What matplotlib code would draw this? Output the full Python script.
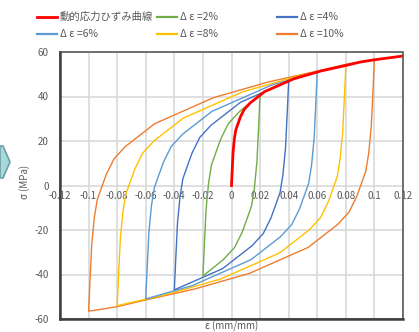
import matplotlib
matplotlib.use("Agg")
import matplotlib.pyplot as plt
from matplotlib.lines import Line2D
from matplotlib.patches import Polygon, Rectangle

plt.rcParams['font.family'] = ['Noto Sans CJK JP', 'DejaVu Sans']

# Skeleton (dynamic stress-strain) curve
skel_eps = [0, 0.0005, 0.0011, 0.002, 0.003, 0.0048, 0.0062, 0.0089, 0.0129,
            0.0232, 0.0438, 0.0628, 0.0803, 0.0902, 0.1, 0.12]
skel_sig = [0, 7, 15, 21, 25, 28.2, 30.8, 34.2, 37, 42.2, 48, 51.5, 54, 55.5, 56.5, 58.2]

# Unloading branches of the hysteresis loops (from +peak down to -peak);
# the reloading branch is the point reflection of the unloading branch.
loop2_eps = [0.02, 0.019, 0.0178, 0.016, 0.014, 0.0104, 0.0076, 0.0022, -0.0057, -0.02]
loop2_sig = [40.7, 26.7, 10.7, -1.3, -9.3, -15.8, -20.8, -27.8, -33.3, -40.7]

loop4_eps = [0.04, 0.039, 0.0378, 0.036, 0.034, 0.0304, 0.0276, 0.0222, 0.0143, -0.0063, -0.04]
loop4_sig = [46.9, 32.9, 16.9, 4.9, -3.1, -9.6, -14.6, -21.6, -27.1, -37.4, -46.9]

loop6_eps = [0.06, 0.059, 0.0578, 0.056, 0.054, 0.0504, 0.0476, 0.0422, 0.0343, 0.0137,
             -0.0275, -0.06]
loop6_sig = [51.0, 37.0, 21.0, 9.0, 1.0, -5.5, -10.5, -17.5, -23.0, -33.3, -45.0, -51.0]

loop8_eps = [0.08, 0.079, 0.0778, 0.076, 0.074, 0.0704, 0.0676, 0.0622, 0.0543, 0.0337,
             -0.0075, -0.0456, -0.08]
loop8_sig = [54.0, 40.0, 24.0, 12.0, 4.0, -2.5, -7.5, -14.5, -20.0, -30.3, -42.0, -49.0, -54.0]

loop10_eps = [0.1, 0.099, 0.0978, 0.096, 0.094, 0.0904, 0.0876, 0.0822, 0.0743, 0.0537,
              0.0125, -0.0256, -0.0605, -0.0803, -0.1]
loop10_sig = [56.5, 42.5, 26.5, 14.5, 6.5, 0.0, -5.0, -12.0, -17.5, -27.8, -39.5, -46.5,
              -51.5, -54.5, -56.5]

labels = ['動的応力ひずみ曲線', 'Δ ε =2%', 'Δ ε =4%', 'Δ ε =6%', 'Δ ε =8%', 'Δ ε =10%']
colors = ['#FF0000', '#70AD47', '#4472C4', '#5B9BD5', '#FFC000', '#ED7D31']

x_ticks = [-0.12, -0.1, -0.08, -0.06, -0.04, -0.02, 0, 0.02, 0.04, 0.06, 0.08, 0.1, 0.12]
x_ticklabels = ['-0.12', '-0.1', '-0.08', '-0.06', '-0.04', '-0.02', '0',
                '0.02', '0.04', '0.06', '0.08', '0.1', '0.12']
y_ticks = [-60, -40, -20, 0, 20, 40, 60]

W, H = 419, 332
fig = plt.figure(figsize=(W / 100, H / 100), dpi=100)
ax = fig.add_axes([60 / W, (H - 319) / H, 343 / W, 267 / H])

ax.set_xlim(-0.12, 0.12)
ax.set_ylim(-60, 60)
ax.set_xticks(x_ticks)
ax.set_xticklabels(x_ticklabels)
ax.set_yticks(y_ticks)
ax.set_yticklabels([str(v) for v in y_ticks])
ax.grid(True, color='#D9D9D9', linewidth=1.2)
ax.set_axisbelow(True)
ax.tick_params(axis='y', length=0, labelsize=7, colors='#595959', pad=8)
ax.tick_params(axis='x', length=0, labelsize=7, colors='#595959', pad=4)

# x axis (with its tick labels) crosses at sigma = 0; the frame is drawn separately
ax.spines['bottom'].set_position(('data', 0))
for side in ['left', 'bottom', 'top', 'right']:
    ax.spines[side].set_visible(False)
ax.add_patch(Rectangle((0, 0), 1, 1, transform=ax.transAxes, fill=False,
                       edgecolor='#595959', linewidth=1.2, zorder=5, clip_on=False))
ax.add_artist(Line2D([0, 0], [0, 1], transform=ax.transAxes, color='#404040',
                     linewidth=1.8, zorder=6, clip_on=False))
ax.add_artist(Line2D([0, 1], [0, 0], transform=ax.transAxes, color='#404040',
                     linewidth=1.8, zorder=6, clip_on=False))


def full_loop(eps, sig):
    xs = list(eps) + [-e for e in eps][1:]
    ys = list(sig) + [-s for s in sig][1:]
    return xs, ys


loops = [(loop2_eps, loop2_sig), (loop4_eps, loop4_sig), (loop6_eps, loop6_sig),
         (loop8_eps, loop8_sig), (loop10_eps, loop10_sig)]
for (e, s), c in zip(loops[::-1], colors[1:][::-1]):
    xs, ys = full_loop(e, s)
    ax.plot(xs, ys, color=c, linewidth=1.0, zorder=3)

ax.plot(skel_eps, skel_sig, color=colors[0], linewidth=2.0, zorder=4)

fig.text(25 / W, 1 - 182 / H, 'σ (MPa)', rotation=90, ha='center', va='center',
         fontsize=7, color='#595959')
fig.text(232 / W, 1 - 326 / H, 'ε (mm/mm)', ha='center', va='center',
         fontsize=7, color='#595959')

# Legend, three columns in two rows
col_x = [37, 157, 277]
row_y = [17, 34]
for i, (lab, c) in enumerate(zip(labels, colors)):
    r, k = divmod(i, 3)
    x0 = col_x[k]
    y = 1 - row_y[r] / H
    fig.add_artist(Line2D([x0 / W, (x0 + 20) / W], [y, y], color=c,
                          linewidth=2.0 if i == 0 else 1.6, transform=fig.transFigure))
    fig.text((x0 + 23) / W, y, lab, ha='left', va='center', fontsize=7.5, color='#595959')

# Chevron at the left margin
chev = Polygon([(0 / W, 1 - 146 / H), (3 / W, 1 - 146 / H), (10 / W, 1 - 162 / H),
                (3 / W, 1 - 178 / H), (0 / W, 1 - 178 / H)], closed=True,
               facecolor='#A8D8D8', edgecolor='#6F9FA8', linewidth=1.2,
               transform=fig.transFigure)
fig.add_artist(chev)

fig.savefig('out.png', dpi=100)
